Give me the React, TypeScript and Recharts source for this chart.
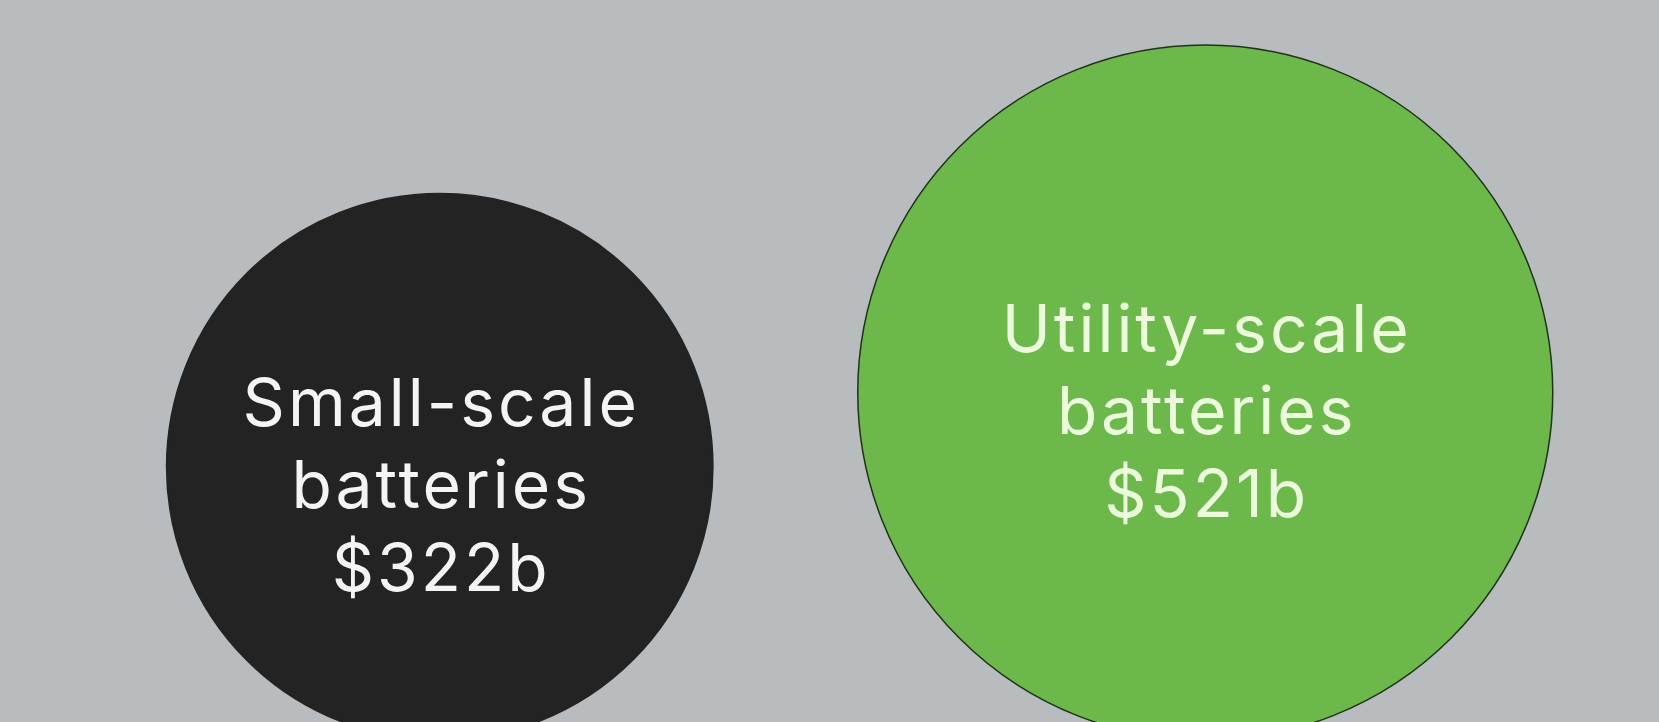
import { ScatterChart, Scatter, XAxis, YAxis, ZAxis } from 'recharts';

// market size by segment, $ billions
const SEGMENTS = ['Small-scale', 'Utility-scale'];
const VALUES = [322, 521];
const LABEL_LINES = [
  ['Small-scale', 'batteries', '$322b'],
  ['Utility-scale', 'batteries', '$521b'],
];
const BASELINE = [0, 0];

const FILLS = ['#232323', '#6cb84b'];
const STROKES = ['#232323', '#1e3318'];
const TEXT_COLORS = ['#f4f4f4', '#ecfbdb'];

const W = 1659;
const H = 722;
const MAX_R = 347.5;
const SPACING = 3;

const data = SEGMENTS.map((name, i) => ({
  name,
  value: VALUES[i],
  base: BASELINE[i],
  lines: LABEL_LINES[i],
  idx: i,
}));

// circle sits on the baseline, so lift centre by its own radius
const Bubble = (props: any) => {
  const { cx, cy, width, payload } = props;
  const r = width / 2;
  const cyc = cy - r;
  const i = payload.idx;
  const offsets = [-41, 41.5, 124];
  return (
    <g>
      <circle cx={cx} cy={cyc} r={r} fill={FILLS[i]} stroke={STROKES[i]} strokeWidth={1.5} />
      {payload.lines.map((t: string, k: number) => (
        <text
          key={k}
          x={cx + SPACING / 2}
          y={cyc + offsets[k]}
          textAnchor="middle"
          fill={TEXT_COLORS[i]}
          fontFamily="Inter, 'Noto Sans', sans-serif"
          fontSize={66}
          letterSpacing={SPACING}
        >
          {t}
        </text>
      ))}
    </g>
  );
};

export default function App() {
  return (
    <div style={{ width: W, height: H, overflow: 'hidden', background: '#b9bcbf', position: 'absolute', left: 0, top: 0 }}>
      <ScatterChart width={W} height={740} margin={{ top: 0, right: 71, bottom: 0, left: 57 }}>
        <XAxis type="category" dataKey="name" hide allowDuplicatedCategory={false} />
        <YAxis type="number" dataKey="base" domain={[0, 1]} hide />
        <ZAxis type="number" dataKey="value" domain={[0, 521]} range={[0, Math.PI * MAX_R * MAX_R]} />
        <Scatter data={data} shape={<Bubble />} isAnimationActive={false} />
      </ScatterChart>
    </div>
  );
}
